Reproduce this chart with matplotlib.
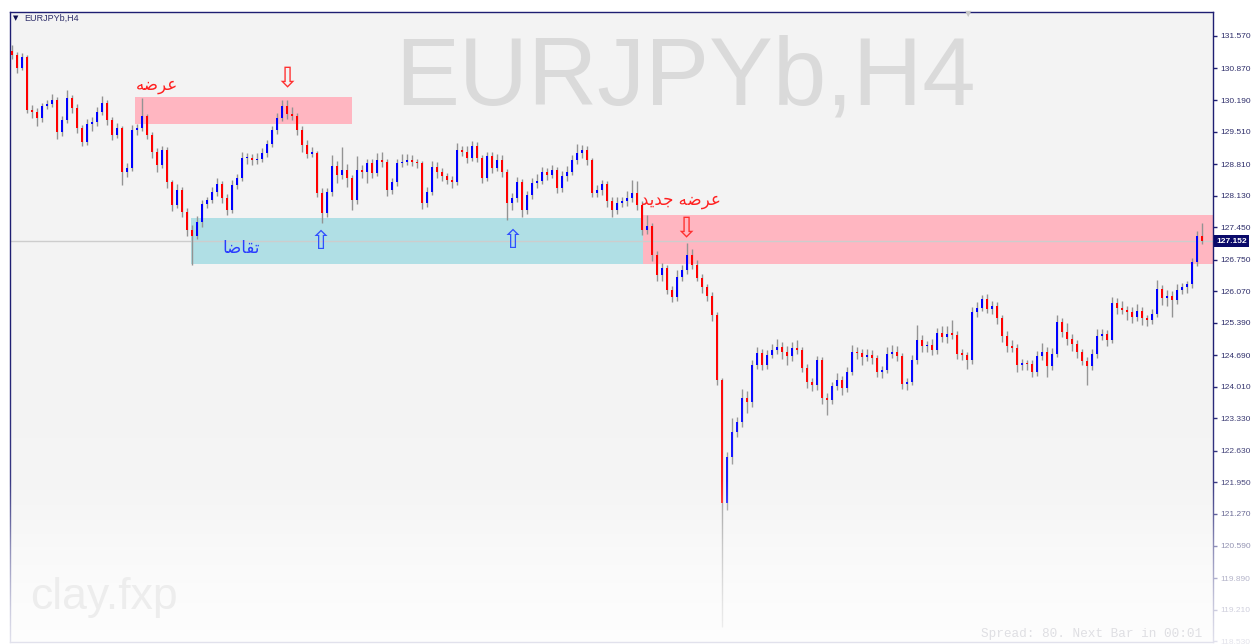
import numpy as np
import matplotlib
matplotlib.use('Agg')
import matplotlib.pyplot as plt
from matplotlib.transforms import blended_transform_factory

# --- data (H4 candles) ---
first_open = 131.25
closes = [
    131.16, 130.88, 131.12, 129.98, 129.93, 129.80, 130.06, 130.10, 130.19, 129.50,
    129.76, 130.23, 130.02, 129.59, 129.29, 129.67, 129.72, 129.93, 130.13, 129.76,
    129.44, 129.59, 128.64, 128.73, 129.54, 129.59, 129.85, 129.44, 129.07, 128.79,
    129.11, 128.42, 127.93, 128.25, 127.78, 127.39, 127.26, 127.56, 127.95, 128.04,
    128.21, 128.38, 128.08, 127.82, 128.36, 128.51, 128.94, 128.94, 128.90, 128.92,
    129.05, 129.24, 129.54, 129.80, 130.06, 129.89, 129.85, 129.54, 129.22, 129.03,
    129.05, 128.19, 127.76, 128.21, 128.77, 128.57, 128.68, 128.51, 128.04, 128.68,
    128.64, 128.83, 128.62, 128.90, 128.85, 128.25, 128.42, 128.83, 128.85, 128.90,
    128.85, 128.83, 127.97, 128.21, 128.75, 128.64, 128.55, 128.47, 128.42, 129.11,
    129.07, 128.94, 129.20, 128.94, 128.51, 128.98, 128.73, 128.90, 128.64, 127.97,
    128.08, 128.42, 127.82, 128.14, 128.40, 128.45, 128.64, 128.57, 128.68, 128.29,
    128.55, 128.64, 128.90, 129.05, 129.11, 128.90, 128.19, 128.25, 128.38, 128.01,
    127.82, 127.97, 128.01, 128.08, 128.19, 127.93, 127.39, 127.48, 126.85, 126.42,
    126.57, 126.10, 125.95, 126.38, 126.53, 126.85, 126.64, 126.36, 126.16, 125.97,
    125.56, 124.16, 121.51, 122.50, 123.04, 123.25, 123.77, 123.68, 124.48, 124.74,
    124.48, 124.70, 124.80, 124.87, 124.76, 124.67, 124.85, 124.80, 124.42, 124.11,
    124.05, 124.59, 123.77, 123.73, 124.03, 124.16, 123.98, 124.33, 124.76, 124.74,
    124.65, 124.70, 124.63, 124.33, 124.37, 124.72, 124.76, 124.67, 124.07, 124.11,
    124.59, 125.02, 124.89, 124.91, 124.80, 125.17, 125.08, 125.15, 125.13, 124.72,
    124.70, 124.59, 125.62, 125.71, 125.90, 125.69, 125.75, 125.49, 125.11, 124.89,
    124.85, 124.48, 124.52, 124.50, 124.33, 124.67, 124.76, 124.46, 124.72, 125.41,
    125.19, 125.04, 124.93, 124.76, 124.57, 124.46, 124.72, 125.11, 125.15, 125.02,
    125.82, 125.71, 125.67, 125.62, 125.51, 125.64, 125.49, 125.45, 125.58, 126.12,
    125.92, 125.97, 125.88, 126.10, 126.16, 126.23, 126.70, 127.26, 127.152,
]
# upper / lower wicks beyond the body, in 0.01 price units
upper_wick = [
    12, 6, 8, 4, 10, 8, 6, 10, 14, 6, 8, 18, 6, 8, 6, 12, 10, 12, 14, 6,
    6, 10, 4, 10, 12, 8, 38, 4, 6, 8, 10, 6, 4, 12, 6, 8, 10, 14, 8, 6,
    10, 12, 6, 8, 10, 8, 14, 10, 8, 12, 10, 8, 10, 12, 14, 12, 14, 6, 8, 10,
    12, 4, 10, 8, 24, 10, 50, 14, 6, 30, 12, 10, 8, 14, 16, 6, 8, 10, 18, 12,
    10, 6, 4, 10, 12, 10, 8, 6, 8, 15, 10, 12, 10, 8, 6, 10, 8, 12, 10, 6,
    10, 12, 6, 10, 12, 14, 10, 8, 12, 6, 10, 12, 10, 20, 12, 8, 4, 10, 8, 6,
    10, 12, 10, 14, 28, 26, 8, 23, 6, 8, 10, 6, 8, 14, 10, 25, 12, 10, 8, 6,
    8, 6, 4, 10, 30, 10, 20, 16, 10, 12, 8, 10, 14, 16, 10, 12, 12, 16, 6, 8,
    10, 8, 6, 10, 8, 14, 8, 10, 16, 10, 8, 12, 10, 6, 8, 14, 16, 12, 6, 8,
    10, 32, 10, 8, 12, 10, 14, 16, 30, 8, 10, 6, 10, 12, 8, 10, 12, 8, 6, 10,
    12, 8, 10, 6, 8, 12, 20, 10, 12, 15, 8, 20, 10, 8, 6, 8, 10, 14, 10, 8,
    13, 10, 14, 8, 10, 16, 8, 6, 10, 19, 8, 12, 10, 12, 8, 6, 8, 10, 28,
]
lower_wick = [
    8, 10, 5, 6, 12, 18, 8, 6, 6, 14, 8, 6, 12, 10, 8, 6, 14, 8, 6, 10,
    12, 6, 28, 10, 6, 10, 6, 8, 12, 16, 6, 12, 14, 6, 10, 12, 62, 6, 10, 8,
    6, 8, 10, 10, 6, 8, 6, 12, 10, 8, 6, 8, 6, 8, 6, 10, 8, 10, 14, 8,
    6, 10, 22, 10, 8, 16, 8, 20, 22, 8, 12, 24, 12, 6, 10, 12, 8, 8, 8, 6,
    8, 10, 12, 8, 6, 12, 10, 10, 12, 6, 8, 10, 6, 8, 10, 6, 12, 8, 10, 37,
    14, 8, 15, 8, 8, 10, 8, 10, 6, 10, 8, 10, 6, 8, 10, 12, 10, 8, 10, 12,
    14, 8, 8, 10, 8, 10, 10, 8, 12, 14, 12, 10, 12, 8, 10, 8, 10, 8, 12, 10,
    14, 10, 268, 15, 16, 12, 10, 24, 10, 8, 10, 8, 6, 8, 14, 18, 10, 8, 10, 12,
    14, 10, 14, 33, 10, 8, 14, 8, 6, 12, 16, 8, 12, 10, 14, 6, 8, 10, 10, 12,
    6, 8, 12, 14, 10, 8, 10, 12, 8, 10, 12, 20, 8, 10, 6, 8, 10, 12, 14, 12,
    8, 14, 10, 12, 10, 8, 8, 24, 8, 6, 10, 12, 14, 12, 10, 40, 8, 8, 10, 12,
    6, 12, 10, 16, 12, 8, 14, 12, 8, 6, 14, 16, 37, 8, 10, 12, 10, 8, 6,
]

price_ticks = [131.57, 130.87, 130.19, 129.51, 128.81, 128.13, 127.45, 126.75, 126.07,
               125.39, 124.69, 124.01, 123.33, 122.63, 121.95, 121.27, 120.59, 119.89,
               119.21, 118.53]

# supply / demand zones: (first candle, price top, price bottom)
supply_old = (24.6, 130.26, 129.67)
demand = (35.8, 127.65, 126.66)
supply_new = (126.2, 127.71, 126.66)

W, H = 1252, 644
fig = plt.figure(figsize=(W / 100, H / 100), dpi=100, facecolor='white')
ax = fig.add_axes([10 / W, (H - 641.5) / H, 1203 / W, 629.5 / H])
ax.set_facecolor('#f3f3f3')

navy = '#1e1e72'
label_col = '#2e2e6a'

c = np.array(closes)
o = np.concatenate([[first_open], c[:-1]])
hi = np.maximum(o, c) + np.array(upper_wick) / 100
lo = np.minimum(o, c) - np.array(lower_wick) / 100
idx = np.arange(len(c))
bull = c >= o

ax.set_xlim(-0.4, 240.2)
ax.set_ylim(118.522, 132.087)

# zones
zone_end = 240.2
ax.add_patch(plt.Rectangle((supply_old[0], supply_old[2]), 68.0 - supply_old[0],
                           supply_old[1] - supply_old[2], color='#ffb6c1', lw=0, zorder=1))
ax.add_patch(plt.Rectangle((demand[0], demand[2]), supply_new[0] - demand[0],
                           demand[1] - demand[2], color='#b0dfe5', lw=0, zorder=1))
ax.add_patch(plt.Rectangle((supply_new[0], supply_new[2]), zone_end - supply_new[0],
                           supply_new[1] - supply_new[2], color='#ffb6c1', lw=0, zorder=1))

# current price line
ax.axhline(c[-1], color='#cdcdcd', lw=1, zorder=1.5)

# watermark
ax.text(0.561, 0.893, 'EURJPYb,H4', transform=ax.transAxes, ha='center', va='center',
        fontsize=69, color='#dadada', family='Liberation Sans', zorder=0.5)

# candles
ax.vlines(idx, lo, hi, color='#939393', lw=1, zorder=3)
body_lo = np.minimum(o, c)
body_h = np.maximum(np.abs(c - o), 0.03)
ax.bar(idx[bull], body_h[bull], bottom=body_lo[bull], width=0.52, color='#0000ff', lw=0, zorder=4)
ax.bar(idx[~bull], body_h[~bull], bottom=body_lo[~bull], width=0.52, color='#ff0000', lw=0, zorder=4)

# annotations (Arabic in presentation forms, visual order)
arab = dict(family='DejaVu Sans', ha='center', va='center', zorder=6)
ax.text(29.0, 130.52, '\uFEEA\uFEBF\uFEAE\uFECB', color='#ff2020', fontsize=12, **arab)
ax.text(133.8, 128.04, '\uFEAA\uFEF3\uFEAA\uFE9F \uFEEA\uFEBF\uFEAE\uFECB', color='#ff2020', fontsize=12, **arab)
ax.text(45.8, 127.0, '\uFE8E\uFEBF\uFE8E\uFED8\uFE97', color='#2a3cff', fontsize=12, **arab)
ax.text(55.0, 130.64, '\u21E9', color='#ff3030', fontsize=20, **arab)
ax.text(134.8, 127.41, '\u21E9', color='#ff3030', fontsize=20, **arab)
ax.text(61.8, 127.13, '\u21E7', color='#3050ff', fontsize=19, **arab)
ax.text(100.2, 127.15, '\u21E7', color='#3050ff', fontsize=19, **arab)

# axes styling
for side in ['left', 'top', 'right', 'bottom']:
    ax.spines[side].set_color(navy)
    ax.spines[side].set_linewidth(1)
ax.set_xticks([])
ax.yaxis.tick_right()
ax.set_yticks(price_ticks)
ax.set_yticklabels(['%.3f' % t for t in price_ticks])
ax.tick_params(axis='y', direction='out', length=3, width=1, color=navy, pad=2.5,
               labelsize=6.0, labelcolor=label_col)
for lab in ax.get_yticklabels():
    lab.set_family('Liberation Sans')

# current price tag
tr = blended_transform_factory(ax.transAxes, ax.transData)
ax.text(1.0025, c[-1], '%.3f' % c[-1], transform=tr, ha='left', va='center',
        fontsize=6.0, color='white', family='Liberation Sans', weight='bold', zorder=8,
        bbox=dict(boxstyle='square,pad=0.25', fc='#0a0a6a', ec='none'))

# chart caption top-left
fig.text(13 / W, 1 - 18 / H, '\u25BC', fontsize=5, color='#101050', va='center', family='DejaVu Sans')
fig.text(24 / W, 1 - 18 / H, 'EURJPYb,H4', fontsize=6.5, color='#2e2e6a', va='center',
         family='Liberation Sans')
fig.text(968 / W, 1 - 14 / H, '\u25BC', fontsize=6, color='#c8c8c8', ha='center', va='center',
         family='DejaVu Sans')

# white fade at the bottom of the window
ov = fig.add_axes([0, 0, 1, 1], zorder=10)
ov.axis('off')
rows = np.arange(H)
alpha = np.interp(rows, [330, 480, 514, 546, 578, 609, 644], [0, 0.12, 0.3, 0.5, 0.65, 0.78, 0.88])
img = np.ones((H, 1, 4))
img[..., 3] = alpha[:, None]
ov.imshow(img, aspect='auto', extent=[0, 1, 0, 1], origin='upper', interpolation='bilinear')
ov.set_xlim(0, 1)
ov.set_ylim(0, 1)

fig.text(30 / W, 1 - 598 / H, 'clay.fxp', fontsize=32, color='#ededed', va='center',
         family='Liberation Sans', zorder=11)
fig.text(1202 / W, 1 - 634 / H, 'Spread: 80. Next Bar in 00:01', fontsize=9.2, color='#dfdfe3',
         ha='right', va='center', family='Liberation Mono', zorder=11)

fig.savefig('out.png', dpi=100, facecolor='white')
